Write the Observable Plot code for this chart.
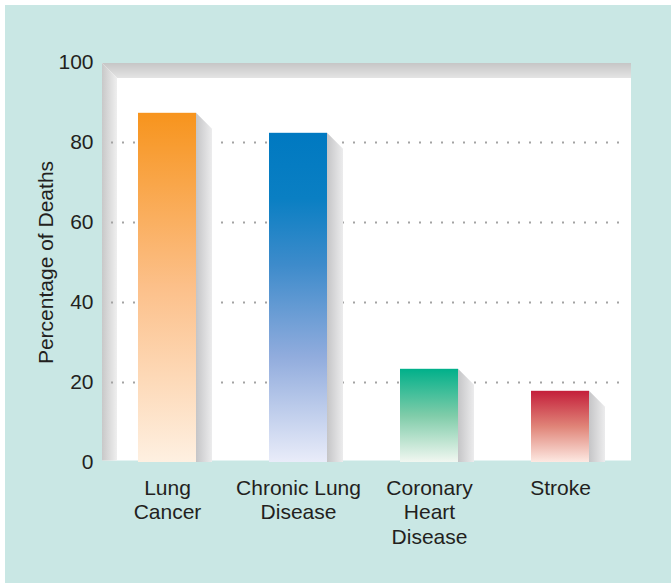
<!DOCTYPE html>
<html>
<head>
<meta charset="utf-8">
<script src="https://cdn.jsdelivr.net/npm/d3@7"></script>
<script src="https://cdn.jsdelivr.net/npm/@observablehq/plot@0.6"></script>
<style>
  html, body { margin: 0; padding: 0; background: #ffffff; }
  #chart { position: absolute; left: 5px; top: 5px; width: 666px; height: 578px; background: #c9e7e4; }
  #chart svg { display: block; }
</style>
</head>
<body>
<div id="chart"></div>
<script>
// Share of deaths attributable to smoking, by cause
const categories = ["Lung Cancer", "Chronic Lung Disease", "Coronary Heart Disease", "Stroke"];
const xLabels = ["Lung\nCancer", "Chronic Lung\nDisease", "Coronary\nHeart\nDisease", "Stroke"];
const values = [87.3, 82.3, 23.3, 17.8];
const yTicks = [0, 20, 40, 60, 80, 100];
const gridTicks = [20, 40, 60, 80];
const yLabel = "Percentage of Deaths";

// Vertical colour ramps for each bar: [offset, colour] from top to bottom
const barRamps = [
  [[0, "#f7941d"], [0.5, "#fcc08a"], [1, "#fef0e1"]],
  [[0, "#0079c1"], [0.2, "#0a7fc3"], [0.4, "#3d8bcb"], [0.68, "#91acdd"], [1, "#e9ecf9"]],
  [[0, "#00b08a"], [0.5, "#7fcca9"], [1, "#f1f7f1"]],
  [[0, "#c41e3a"], [0.5, "#e08478"], [1, "#fde9e2"]]
];

const data = categories.map((category, i) => ({
  category,
  label: xLabels[i],
  value: values[i],
  gradient: `url(#bar-grad-${i})`
}));

const textColor = "#231f20";
const fontSize = 21;

// White plotting panel with a bevelled top and left edge
function plotPanel(index, {y}, values, {width, marginLeft, marginRight}) {
  const l = marginLeft, r = width - marginRight, t = y(100) + 1, b = y(0) - 1.5, d = 15;
  const g = d3.create("svg:g");
  g.append("rect").attr("x", l).attr("y", t).attr("width", r - l).attr("height", b - t).attr("fill", "#ffffff");
  g.append("polygon")
    .attr("points", [[l, t], [r, t], [r, t + d], [l + d, t + d]].join(" "))
    .attr("fill", "url(#panel-top)");
  g.append("polygon")
    .attr("points", [[l, t], [l + d, t + d], [l + d, b], [l, b]].join(" "))
    .attr("fill", "url(#panel-left)");
  return g.node();
}

// Grey side face cast to the right of each bar
function barShadows(index, {x, y}) {
  const bw = x.bandwidth(), d = 16;
  const g = d3.create("svg:g");
  for (const row of data) {
    const x0 = x(row.category) + bw, y0 = y(row.value), yb = y(0);
    g.append("polygon")
      .attr("points", [[x0, y0], [x0 + d, y0 + d], [x0 + d, yb], [x0, yb]].join(" "))
      .attr("fill", "url(#bar-shadow)");
  }
  return g.node();
}

const chart = Plot.plot({
  width: 666,
  height: 578,
  marginTop: 57,
  marginBottom: 121,
  marginLeft: 97,
  marginRight: 40,
  style: { background: "transparent", fontFamily: "'Liberation Sans', Arial, Helvetica, sans-serif", color: textColor },
  x: { domain: categories, range: [95, 621], paddingInner: 0.559, paddingOuter: 0.2795, axis: null },
  y: { domain: [0, 100] },
  color: { type: "identity" },
  marks: [
    plotPanel,
    Plot.ruleY(gridTicks, { stroke: "#a3a3a3", strokeWidth: 2, strokeDasharray: "2 9", insetLeft: 9, insetRight: 3 }),
    barShadows,
    Plot.barY(data, { x: "category", y: "value", fill: "gradient" }),
    Plot.axisY(yTicks, { tickSize: 0, tickPadding: 9, fontSize, label: null, fill: textColor }),
    Plot.text(data, {
      x: "category", text: "label", frameAnchor: "bottom", lineAnchor: "top",
      dy: 15, fontSize, lineHeight: 1.167, fill: textColor
    }),
    Plot.text([yLabel], { frameAnchor: "left", textAnchor: "middle", rotate: -90, dx: -56, fontSize, fill: textColor })
  ]
});

// Gradient definitions used by the bars, their side faces and the panel bevel
const defs = d3.select(chart).insert("defs", ":first-child");
barRamps.forEach((ramp, i) => {
  const lg = defs.append("linearGradient").attr("id", `bar-grad-${i}`)
    .attr("x1", 0).attr("y1", 0).attr("x2", 0).attr("y2", 1);
  for (const [offset, colour] of ramp) lg.append("stop").attr("offset", offset).attr("stop-color", colour);
});
function linear(id, horizontal, from, to) {
  const lg = defs.append("linearGradient").attr("id", id)
    .attr("x1", 0).attr("y1", 0).attr("x2", horizontal ? 1 : 0).attr("y2", horizontal ? 0 : 1);
  lg.append("stop").attr("offset", 0).attr("stop-color", from);
  lg.append("stop").attr("offset", 1).attr("stop-color", to);
}
linear("bar-shadow", true, "#c5c5c7", "#ececed");
linear("panel-top", false, "#c6c6c6", "#e4e4e4");
linear("panel-left", true, "#c8c8c8", "#efefef");

document.getElementById("chart").appendChild(chart);
</script>
</body>
</html>
